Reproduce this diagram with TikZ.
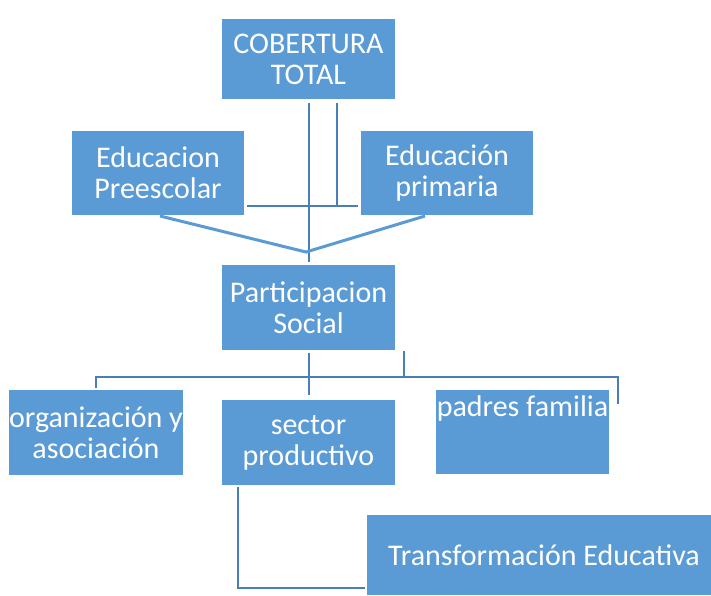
\documentclass[tikz,border=0pt]{standalone}
\usepackage{fontspec}
\setmainfont{Carlito}
\definecolor{boxblue}{HTML}{5B9BD5}
\definecolor{lineblue}{HTML}{4A7EBB}
\begin{document}
\begin{tikzpicture}[x=1pt,y=-1pt,
  box/.style={fill=boxblue,draw=none,inner sep=0pt,text=white,align=center,
    font=\fontsize{30}{31}\selectfont},
  conn/.style={draw=lineblue,line width=2.2pt},
  diag/.style={draw=boxblue,line width=3pt}]
\useasboundingbox (0,0) rectangle (711,595);
\node[box,minimum width=173pt,minimum height=80pt] (cob) at (308.5,59) {COBERTURA\\TOTAL};
\node[box,minimum width=172pt,minimum height=84pt] (pre) at (158,173) {Educacion\\Preescolar};
\node[box,minimum width=172pt,minimum height=84pt] (pri) at (447,173) {Educación\\primaria};
\node[box,minimum width=173pt,minimum height=85pt] (part) at (308.5,307.5) {Participacion\\Social};
\node[box,minimum width=172pt,minimum height=85pt] (org) at (96,432.5) {organización y\\asociación};
\node[box,minimum width=173pt,minimum height=85pt] (sec) at (308.5,442.5) {sector\\productivo};
\node[box,minimum width=173pt,minimum height=84pt,anchor=north] (pad) at (522.5,390) {};
\node[anchor=north,inner sep=0pt,text=white,font=\fontsize{30}{31}\selectfont] (padt) at (522.5,395) {padres familia};
\node[box,minimum width=344pt,minimum height=80pt] (tra) at (539,555) {\hspace*{10pt}Transformación Educativa};
% top connectors
\coordinate (c1) at (309,103);
\coordinate (c2) at (309,262);
\coordinate (c3) at (337,103);
\coordinate (c4) at (337,206);
\coordinate (h1) at (247,206);
\coordinate (h2) at (358,206);
\draw[conn] (c1) -- (c2);
\draw[conn] (c3) -- (c4);
\draw[conn] (h1) -- (h2);
% diagonal lines
\coordinate (m) at (306,252);
\coordinate (pb) at (160,216);
\coordinate (qb) at (425,216);
\draw[diag] (pb) -- (m) -- (qb);
% participation connectors
\coordinate (p1) at (309,353);
\coordinate (p2) at (309,395);
\coordinate (p3) at (404,351);
\coordinate (p4) at (404,377);
\coordinate (l1) at (96,388);
\coordinate (r1) at (618,404);
\draw[conn] (p1) -- (p2);
\draw[conn] (p3) -- (p4);
\draw[conn] (l1) -- (96,377) -- (618,377) -- (r1);
% sector to transformacion
\coordinate (s1) at (238,487);
\coordinate (s2) at (365,588);
\draw[conn] (s1) |- (s2);
\end{tikzpicture}
\end{document}
